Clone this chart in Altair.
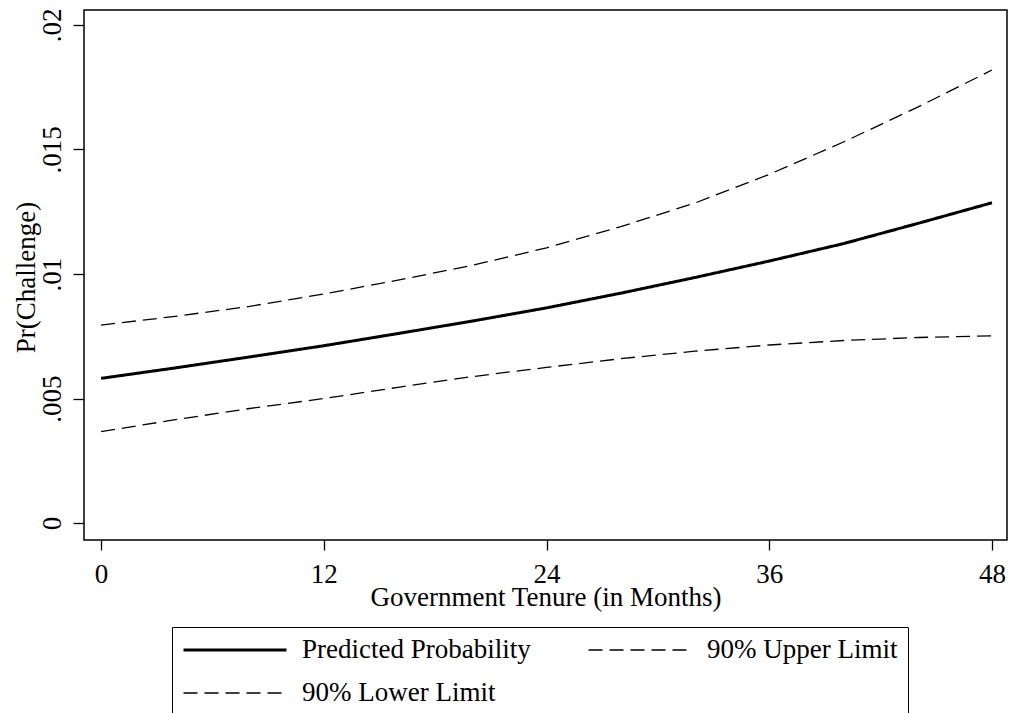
import altair as alt
import pandas as pd

# Government tenure in months and predicted probability of a challenge
months = [0, 4, 8, 12, 16, 20, 24, 28, 32, 36, 40, 44, 48]
predicted = [0.00581, 0.00623, 0.00667, 0.00712, 0.00761, 0.00811, 0.00864,
             0.00923, 0.00986, 0.01052, 0.01122, 0.01203, 0.01286]
upper = [0.00795, 0.00830, 0.00870, 0.00920, 0.00975, 0.01035, 0.01105,
         0.01190, 0.01285, 0.01400, 0.01530, 0.01670, 0.01819]
lower = [0.00367, 0.00415, 0.00460, 0.00500, 0.00545, 0.00588, 0.00625,
         0.00660, 0.00690, 0.00715, 0.00733, 0.00745, 0.00752]

series_names = ["Predicted Probability", "90% Upper Limit", "90% Lower Limit"]
x_ticks = [0, 12, 24, 36, 48]
y_ticks = [0, 0.005, 0.01, 0.015, 0.02]

rows = []
for name, values in zip(series_names, [predicted, upper, lower]):
    for m, v in zip(months, values):
        rows.append({"month": m, "prob": v, "series": name})
df = pd.DataFrame(rows)

FONT = "Liberation Serif"
SIZE = 27

legend = alt.Legend(
    title=None,
    orient="none",
    legendX=88,
    legendY=617,
    columns=2,
    direction="horizontal",
    columnPadding=56,
    rowPadding=16,
    padding=10,
    strokeColor="black",
    fillColor="white",
    symbolType="stroke",
    symbolSize=10609,
    clipHeight=26,
    symbolStrokeColor="black",
    symbolOffset=0,
    labelFont=FONT,
    labelFontSize=SIZE,
    labelColor="black",
    labelOffset=14,
    labelLimit=500,
)

chart = alt.Chart(df).mark_line(color="black").encode(
    x=alt.X(
        "month:Q",
        scale=alt.Scale(domain=[-0.92, 48.81], nice=False, zero=False),
        axis=alt.Axis(
            values=x_ticks,
            title="Government Tenure (in Months)",
            labelBaseline="alphabetic",
            labelPadding=32,
            tickSize=10,
            titleBaseline="alphabetic",
            titleY=65,
        ),
    ),
    y=alt.Y(
        "prob:Q",
        scale=alt.Scale(domain=[-0.00068, 0.0206], nice=False, zero=False),
        axis=alt.Axis(
            values=y_ticks,
            labelExpr="datum.value == 0 ? '0' : replace(format(datum.value, '.3~f'), '0.', '.')",
            labelAngle=270,
            labelAlign="center",
            labelBaseline="alphabetic",
            labelPadding=13,
            tickSize=11,
            title="Pr(Challenge)",
            titleAngle=270,
            titleBaseline="alphabetic",
            titleX=-50,
            titleY=267,
        ),
    ),
    strokeDash=alt.StrokeDash(
        "series:N",
        scale=alt.Scale(domain=series_names, range=[[1, 0], [14, 7], [14, 7]]),
        legend=legend,
    ),
    strokeWidth=alt.StrokeWidth(
        "series:N",
        scale=alt.Scale(type="ordinal", domain=series_names, range=[3, 1.3, 1.3]),
        legend=legend,
    ),
).properties(
    width=923,
    height=530,
    autosize=alt.AutoSizeParams(type="none"),
    padding={"left": 84, "top": 10, "right": 2, "bottom": 173},
).configure_view(
    stroke="black",
    strokeWidth=1.5,
).configure_axis(
    labelFont=FONT,
    labelFontSize=SIZE,
    labelColor="black",
    titleFont=FONT,
    titleFontSize=SIZE,
    titleFontWeight="normal",
    titleColor="black",
    tickColor="black",
    tickWidth=1.3,
    domain=False,
    grid=False,
)

chart.save("out.html", embed_options={"renderer": "svg", "actions": False})
